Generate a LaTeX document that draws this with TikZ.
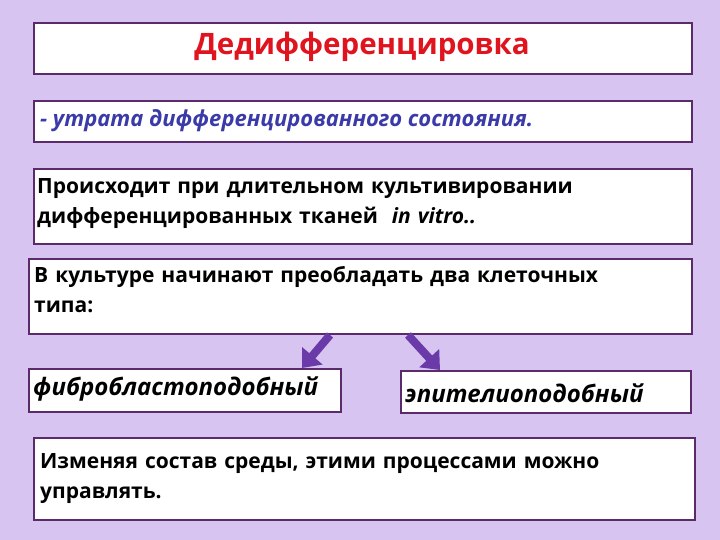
\documentclass[tikz,border=0pt]{standalone}
\usepackage{fontspec}
\setmainfont{Open Sans}
\usetikzlibrary{arrows.meta}
\definecolor{bg}{HTML}{D8C4F0}
\definecolor{bd}{HTML}{5A2A6A}
\definecolor{ar}{HTML}{6A3AA8}
\definecolor{ttl}{HTML}{E0141E}
\definecolor{itc}{HTML}{3A3AA8}
\tikzset{box/.style={draw=bd,line width=2pt,fill=white},
 txt/.style={anchor=north west,align=left,font=\fontsize{21}{30}\selectfont\bfseries,inner sep=0pt},
 arr/.style={draw=ar,line width=8pt,-{Triangle[length=16pt,width=26pt]}}}
\begin{document}
\begin{tikzpicture}[x=1pt,y=-1pt]
\fill[bg] (0,0) rectangle (720,540);
\node[box,minimum width=658,minimum height=51,anchor=north west] (b1) at (33,22) {};
\node[font=\fontsize{29.5}{32}\selectfont\bfseries,text=ttl] (t1) at (362,47) {Дедифференцировка};
\node[box,minimum width=658,minimum height=41,anchor=north west] (b2) at (33,100) {};
\node[txt,text=itc,font=\fontsize{22}{27}\selectfont\bfseries\itshape,anchor=west] (t2) at (40,121) {- утрата дифференцированного состояния.};
\node[box,minimum width=658,minimum height=75,anchor=north west] (b3) at (33,168) {};
\node[txt,text width=645] (t3) at (37,178) {Происходит при длительном культивировании\\дифференцированных тканей \ {\itshape in vitro..}};
\node[box,minimum width=663,minimum height=75,anchor=north west] (b4) at (28,258) {};
\node[txt,text width=645] (t4) at (34,266) {В культуре начинают преобладать два клеточных\\типа:};
\node[box,minimum width=312,minimum height=43,anchor=north west] (b5) at (28,368) {};
\node[txt,anchor=west,font=\fontsize{24}{27}\selectfont\bfseries\itshape] (t5) at (33,389) {фибробластоподобный};
\node[box,minimum width=290,minimum height=42,anchor=north west] (b6) at (400,370) {};
\node[txt,anchor=west,font=\fontsize{24}{27}\selectfont\bfseries\itshape] (t6) at (405,393) {эпителиоподобный};
\node[box,minimum width=661,minimum height=82,anchor=north west] (b7) at (33,437) {};
\node[txt,text width=645] (t7) at (40,453) {Изменяя состав среды, этими процессами можно\\управлять.};
\coordinate (a1) at (330,335); \coordinate (a2) at (408,335);
\draw[arr] (a1) -- (b5.north east -| 302,368);
\draw[arr] (a2) -- (b6.north -| 440,370);
\end{tikzpicture}
\end{document}
